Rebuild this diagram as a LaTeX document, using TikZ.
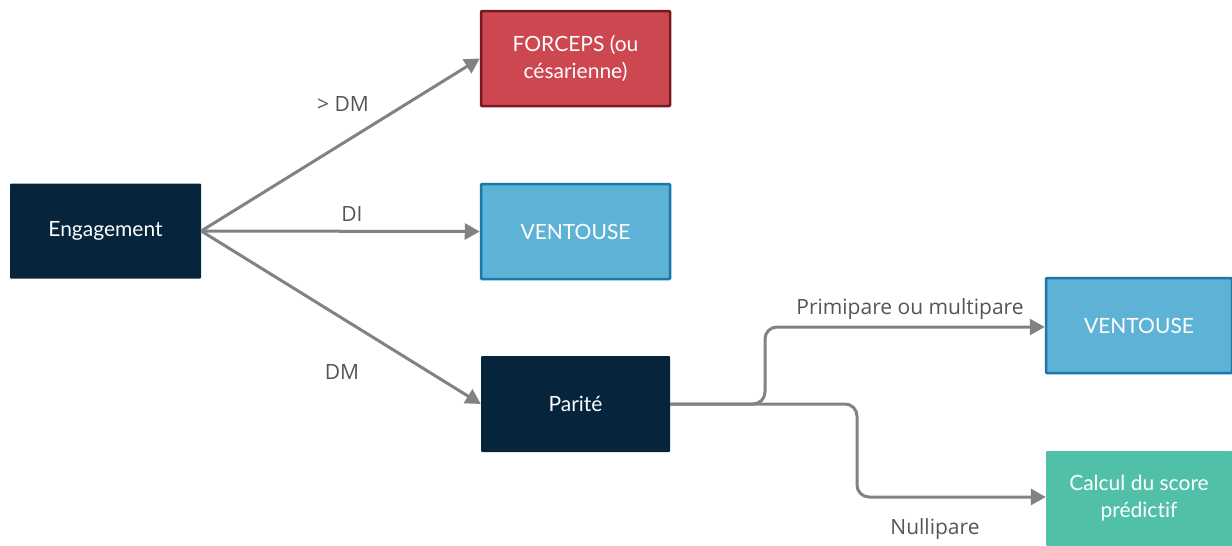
\documentclass[tikz,border=0pt]{standalone}
\usepackage{fontspec}
\setmainfont[Ligatures=NoCommon]{Lato}
\newfontfamily\labelfont{Open Sans}
\usepackage{tikz}
\usetikzlibrary{arrows.meta}
\definecolor{navy}{HTML}{06243C}
\definecolor{fred}{HTML}{CC4750}
\definecolor{fredline}{HTML}{761A22}
\definecolor{vblue}{HTML}{5EB2D6}
\definecolor{vblueline}{HTML}{1978A8}
\definecolor{teal}{HTML}{50C1A8}
\definecolor{arrowgray}{HTML}{828282}
\definecolor{labelgray}{HTML}{555555}
\tikzset{box/.style = {rectangle, minimum width=189pt, minimum height=95pt, text=white,
                       font=\fontsize{21}{27}\selectfont, align=center, rounded corners=1pt},
         darkbox/.style = {box, fill=navy},
         redbox/.style = {box, fill=fred, draw=fredline, line width=2.5pt},
         bluebox/.style = {box, fill=vblue, draw=vblueline, line width=2.5pt},
         greenbox/.style = {box, fill=teal},
         link/.style = {draw=arrowgray, line width=3pt, -{Triangle[length=15pt,width=16pt]}},
         lbl/.style = {text=labelgray, font=\labelfont\fontsize{21}{25}\selectfont}}

\begin{document}
\begin{tikzpicture}[x=1pt,y=-1pt]
      \useasboundingbox (0,0) rectangle (1232,546);
      \node [darkbox, minimum width=191pt] (engagement) at (105.5,231) {Engagement};
      \node [redbox] (forceps) at (575.5,58.5) {FORCEPS (ou\\c\'esarienne)};
      \node [bluebox] (ventouse) at (575.5,231.5) {VENTOUSE};
      \node [darkbox, minimum height=96pt] (parite) at (575.5,404) {Parit\'e};
      \node [bluebox, minimum width=186pt] (ventouseb) at (1139,325.5) {VENTOUSE};
      \node [greenbox, minimum width=186pt] (score) at (1139,498.5) {Calcul du score\\pr\'edictif};
      \draw [link] (engagement.east) -- (forceps.west);
      \draw [link] (engagement.east) -- (ventouse.west);
      \draw [link] (engagement.east) -- (parite.west);
      \draw [link, rounded corners=12pt] (parite.east) -- (765,404) -- (765,327) -- (ventouseb.west |- 0,327);
      \draw [link, rounded corners=12pt] (parite.east) -- (857,404) -- (857,497) -- (score.west |- 0,497);
      \node [lbl] (lgt) at (343,104) {> DM};
      \node [lbl] (ldi) at (352,214) {DI};
      \node [lbl] (ldm) at (342,372) {DM};
      \node [lbl] (lprim) at (910,309) {Primipare ou multipare};
      \node [lbl] (lnull) at (935,529) {Nullipare};
    \end{tikzpicture}
\end{document}
